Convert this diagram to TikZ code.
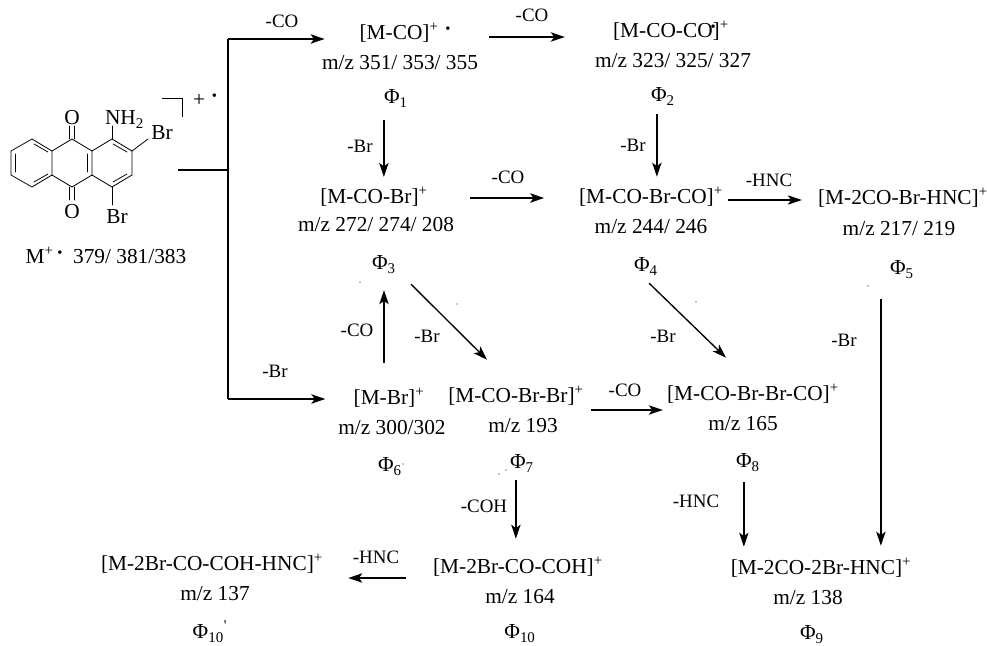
\documentclass[tikz,border=0pt]{standalone}
\usepackage{fontspec}
\setmainfont{Liberation Serif}
\usepackage{tikz}
\usetikzlibrary{arrows.meta}

\newcommand{\radic}{\raisebox{5pt}{\fontsize{11}{11}\selectfont\textbullet}}
\newcommand{\plusup}{\textsuperscript{+}}
\tikzset{
  every node/.style={font=\fontsize{16}{19}\selectfont},
  ion/.style={inner sep=0pt, text height=13.4pt, text depth=3pt},
  loss/.style={inner sep=0pt, text height=11pt, text depth=3.5pt, font=\fontsize{14.2}{17}\selectfont},
  rxn/.style={-{Stealth[length=10.5pt,width=7pt,inset=2.5pt]}, line width=1.2pt},
  rxnthin/.style={rxn, line width=1pt},
  trunk/.style={line width=0.8pt},
  bond/.style={line width=0.6pt, line cap=round}
}

\begin{document}
\begin{tikzpicture}[x=0.75pt,y=-0.75pt]
  \useasboundingbox (0,0) rectangle (987,645);
  % parent ion
  \node[ion] (o1) at (72,118) {O};
  \node[ion] (o2) at (72,212) {O};
  \node[ion] (nh2) at (124.5,118) {NH\textsubscript{2}};
  \node[ion] (br1) at (162,133) {Br};
  \node[ion] (br2) at (117,217) {Br};
  \coordinate (r1) at (11,151);
  \coordinate (r2) at (11,175);
  \coordinate (r3) at (32,187);
  \coordinate (r4) at (52,175);
  \coordinate (r5) at (52,151);
  \coordinate (r6) at (32,139);
  \coordinate (s1) at (72,139);
  \coordinate (s2) at (72,187);
  \coordinate (s3) at (92,151);
  \coordinate (s4) at (92,175);
  \coordinate (t1) at (112,139);
  \coordinate (t2) at (132,151);
  \coordinate (t3) at (132,175);
  \coordinate (t4) at (112,187);
  \draw[bond] (r1) -- (r2) -- (r3) -- (r4) -- (r5) -- (r6) -- cycle;
  \draw[bond] (r5) -- (s1) -- (s3) -- (s4) -- (s2) -- (r4);
  \draw[bond] (s3) -- (t1) -- (t2) -- (t3) -- (t4) -- (s4);
  % double bonds
  \draw[bond] (15,154) -- (15,172);
  \draw[bond] (34,182) -- (48,174);
  \draw[bond] (34,144) -- (48,152);
  \draw[bond] (87.5,154) -- (87.5,172);
  \draw[bond] (113,144) -- (127,152);
  \draw[bond] (113,182) -- (127,174);
  \draw[bond] (69.8,139) -- (69.8,126);
  \draw[bond] (74.2,139) -- (74.2,126);
  \draw[bond] (69.8,187) -- (69.8,200);
  \draw[bond] (74.2,187) -- (74.2,200);
  \draw[bond] (t1) -- (112,126);
  \draw[bond] (t4) -- (112,205);
  \draw[bond] (t2) -- (148,139);
  \draw[line width=0.6pt] (162,98) -- (182,98) -- (182,117);
  \node[ion] (chg) at (205,100) {+\hspace{5pt}\radic};
  \node[ion] (mol) at (106,257) {M\plusup\,\radic\ \ 379/ 381/383};
  % species
  \node[ion] (m1) at (405,33) {[M-CO]\plusup\hspace{5pt}\radic};
  \node[ion] (mz1) at (400,63) {m/z 351/ 353/ 355};
  \node[ion] (p1) at (396,97) {Φ\textsubscript{1}};
  \node[ion] (m2) at (671,31) {[M-CO-CO\rlap{\hspace{-1.5pt}\radic}]\plusup};
  \node[ion] (mz2) at (673,61) {m/z 323/ 325/ 327};
  \node[ion] (p2) at (663,95) {Φ\textsubscript{2}};
  \node[ion] (m3) at (374,197) {[M-CO-Br]\plusup};
  \node[ion] (mz3) at (376,225) {m/z 272/ 274/ 208};
  \node[ion] (p3) at (384,263) {Φ\textsubscript{3}};
  \node[ion] (m4) at (651,197) {[M-CO-Br-CO]\plusup};
  \node[ion] (mz4) at (651,227) {m/z 244/ 246};
  \node[ion] (p4) at (646,265) {Φ\textsubscript{4}};
  \node[ion] (m5) at (903,198) {[M-2CO-Br-HNC]\plusup};
  \node[ion] (mz5) at (899,229) {m/z 217/ 219};
  \node[ion] (p5) at (902,268) {Φ\textsubscript{5}};
  \node[ion] (m6) at (389,398) {[M-Br]\plusup};
  \node[ion] (mz6) at (392,428) {m/z 300/302};
  \node[ion] (p6) at (390,465) {Φ\textsubscript{6}};
  \node[ion] (m7) at (516,396) {[M-CO-Br-Br]\plusup};
  \node[ion] (mz7) at (523,426) {m/z 193};
  \node[ion] (p7) at (522,462) {Φ\textsubscript{7}};
  \node[ion] (m8) at (753,394) {[M-CO-Br-Br-CO]\plusup};
  \node[ion] (mz8) at (743,424) {m/z 165};
  \node[ion] (p8) at (748,461) {Φ\textsubscript{8}};
  \node[ion] (m9) at (821,568) {[M-2CO-2Br-HNC]\plusup};
  \node[ion] (mz9) at (808,598) {m/z 138};
  \node[ion] (p9) at (812,633) {Φ\textsubscript{9}};
  \node[ion] (m10) at (518,567) {[M-2Br-CO-COH]\plusup};
  \node[ion] (mz10) at (520,597) {m/z 164};
  \node[ion] (p10) at (520,632) {Φ\textsubscript{10}};
  \node[ion] (m11) at (212,564) {[M-2Br-CO-COH-HNC]\plusup};
  \node[ion] (mz11) at (215,594) {m/z 137};
  \node[ion] (p11) at (210,632) {Φ\textsubscript{10}\textsuperscript{\textquotesingle}};
  % trunk from the parent ion
  \coordinate (tee) at (228,170);
  \coordinate (top) at (228,39);
  \coordinate (bot) at (228,399);
  \coordinate (stub) at (178,170);
  \draw[trunk] (stub) -- (tee);
  \draw[trunk] (top) -- (bot);
  \draw[rxn,shorten >=26pt] (top) -- (top -| m1.west);
  \draw[rxn,shorten >=21pt] (bot) -- (bot -| m6.west);
  % reaction arrows
  \draw[rxn,shorten <=29pt,shorten >=36pt] ([yshift=-3pt]m1.east) -- ([yshift=-3pt]m1.east -| m2.west);
  \draw[rxn,shorten <=9pt,shorten >=6.6pt] (p1.south west) -- (p1.south west |- m3.north);
  \draw[rxn,shorten <=6pt,shorten >=6.8pt] ([xshift=4.5pt]p2.south west) -- ([xshift=4.5pt]p2.south west |- m4.north);
  \draw[rxn,shorten <=31.5pt,shorten >=26pt] ([yshift=-0.75pt]m3.east) -- ([yshift=-0.75pt]m4.west);
  \draw[rxn,shorten <=3.75pt,shorten >=12pt] ([yshift=-2.25pt]m4.east) -- ([yshift=-2.25pt]m4.east -| m5.west);
  \draw[rxn,shorten <=18pt,shorten >=12pt] (p3 |- m6.north) -- (p3.south);
  \draw[rxnthin] ([xshift=11.25pt,yshift=-7.6pt]p3.south east) -- ([xshift=-21.75pt,yshift=18.8pt]m7.north);
  \draw[rxnthin] ([xshift=-6.75pt,yshift=-5.3pt]p4.south east) -- ([xshift=-20.25pt,yshift=18.8pt]m8.north);
  \draw[rxn,shorten <=15pt,shorten >=8.3pt] ([xshift=-6.75pt]p5.south west) -- ([xshift=-6.75pt]p5.south west |- m9.north);
  \draw[rxn,shorten <=5.25pt,shorten >=3pt] ([yshift=-10.5pt]m7.east) -- ([yshift=-10.5pt]m7.east -| m8.west);
  \draw[rxn,shorten <=5.3pt,shorten >=12.8pt] ([xshift=4.5pt]p7.south west) -- ([xshift=4.5pt]p7.south west |- m10.north);
  \draw[rxn,shorten <=7.6pt,shorten >=7.6pt] ([xshift=6pt]p8.south west) -- ([xshift=6pt]p8.south west |- m9.north);
  \draw[rxn,shorten <=20pt,shorten >=18.75pt] ([yshift=-8.25pt]m10.west) -- ([yshift=-8.25pt]m10.west -| m11.east);
  % losses
  \node[loss] (l1) at (282,23) {-CO};
  \node[loss] (l2) at (532,17) {-CO};
  \node[loss] (l3) at (360,148) {-Br};
  \node[loss] (l4) at (633,147) {-Br};
  \node[loss] (l5) at (508,179) {-CO};
  \node[loss] (l6) at (769,182) {-HNC};
  \node[loss] (l7) at (357,331) {-CO};
  \node[loss] (l8) at (427,337) {-Br};
  \node[loss] (l9) at (663,337) {-Br};
  \node[loss] (l10) at (844,341) {-Br};
  \node[loss] (l11) at (275,372) {-Br};
  \node[loss] (l12) at (625,391) {-CO};
  \node[loss] (l13) at (484,507) {-COH};
  \node[loss] (l14) at (696,502) {-HNC};
  \node[loss] (l15) at (376,558) {-HNC};
  % specks
  \foreach \x/\y in {360/282, 457/304, 696/302, 868/286, 403/464, 499/474, 506/470}
    \fill (\x,\y) circle (0.4pt);
\end{tikzpicture}
\end{document}
